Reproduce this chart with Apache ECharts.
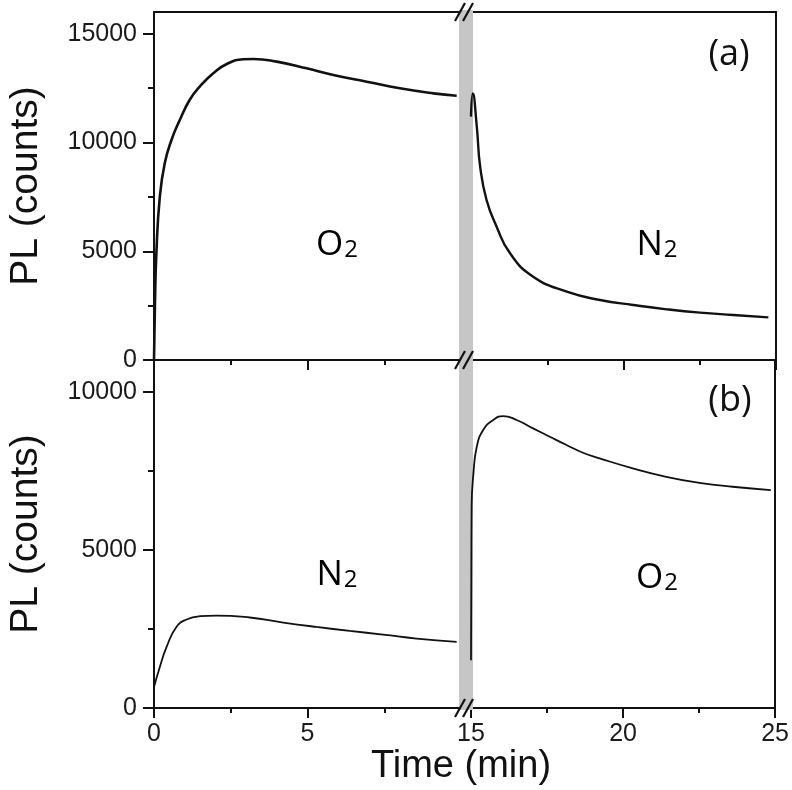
<!DOCTYPE html>
<html>
<head>
<meta charset="utf-8">
<script src="https://cdn.jsdelivr.net/npm/echarts@6/dist/echarts.min.js"></script>
<style>
html,body{margin:0;padding:0;background:#fff;}
#chart{width:792px;height:790px;}
</style>
</head>
<body>
<div id="chart"></div>
<script>
// ---- Data (time in min, PL in counts) ----
// Panel (a): O2 then N2
const timeA1 = [0, 0.03, 0.08, 0.19, 0.35, 0.57, 0.84, 1.16, 1.49, 1.93, 2.37, 2.91, 3.24, 4.0, 4.97, 5.84, 6.93, 8.01, 9.1, 9.86];
const plA1   = [0, 2500, 5000, 7510, 9045, 10115, 11035, 11955, 12567, 13183, 13610, 13826, 13840, 13717, 13410, 13104, 12797, 12490, 12260, 12153];
const timeA2 = [15.0, 15.06, 15.19, 15.30, 15.51, 15.84, 16.28, 17.04, 18.14, 19.23, 20.32, 21.42, 22.51, 23.60, 24.75];
const plA2   = [11190, 12260, 10730, 8888, 7357, 6130, 4906, 3830, 3140, 2759, 2529, 2330, 2176, 2069, 1962];
// Panel (b): N2 then O2
const timeB1 = [0, 0.19, 0.41, 0.73, 1.06, 1.49, 2.03, 3.12, 4.21, 5.29, 6.38, 7.46, 8.55, 9.86];
const plB1   = [665, 1297, 1930, 2563, 2797, 2901, 2923, 2860, 2702, 2563, 2436, 2322, 2196, 2088];
const timeB2 = [15.0, 15.01, 15.02, 15.08, 15.19, 15.40, 15.73, 16.06, 16.50, 17.04, 17.59, 18.14, 18.68, 19.23, 20.32, 21.42, 22.51, 23.60, 24.86];
const plB2   = [1509, 4000, 6360, 7416, 8258, 8786, 9103, 9229, 9103, 8840, 8574, 8312, 8068, 7891, 7575, 7309, 7119, 6993, 6888];

const xTicksLeft = [0, 5];
const xMinorLeft = [2.5, 7.5];
const xTicksRight = [15, 20, 25];
const xMinorRight = [17.5, 22.5];
const yTicksA = [0, 5000, 10000, 15000];
const yMinorA = [2500, 7500, 12500];
const yTicksB = [0, 5000, 10000];
const yMinorB = [2500, 7500];

const yTitle = 'PL (counts)';
const xTitle = 'Time (min)';

const pairs = (t, v) => t.map((x, i) => [x, v[i]]);

const INK = '#111';
const lineStyle = { color: INK, width: 2 };
const tickFont = { fontFamily: 'Liberation Sans, Arial, sans-serif', fontSize: 25, color: '#1a1a1a', formatter: function (v) { return String(v); } };

const grids = [
  { left: 154, top: 12, width: 307, height: 348 },   // a-left
  { left: 471, top: 12, width: 305, height: 348 },   // a-right
  { left: 154, top: 360, width: 307, height: 348 },  // b-left
  { left: 471, top: 360, width: 305, height: 348 }   // b-right
];

function xMajor(gi, min, max, ticks, showLabels) {
  return {
    type: 'value', gridIndex: gi, position: 'bottom', min: min, max: max, interval: 5,
    splitLine: { show: false },
    axisLine: { show: true, onZero: false, lineStyle: lineStyle },
    axisTick: { show: true, inside: false, length: 10, lineStyle: lineStyle, customValues: ticks },
    axisLabel: { show: showLabels, margin: 14, customValues: ticks, ...tickFont }
  };
}
function xMinor(gi, min, max, ticks) {
  return {
    type: 'value', gridIndex: gi, position: 'bottom', min: min, max: max, interval: 5,
    splitLine: { show: false },
    axisLine: { show: false, onZero: false },
    axisTick: { show: true, inside: false, length: 5, lineStyle: lineStyle, customValues: ticks },
    axisLabel: { show: false }
  };
}
function xTop(gi, min, max) {
  return {
    type: 'value', gridIndex: gi, position: 'top', min: min, max: max,
    splitLine: { show: false },
    axisLine: { show: true, onZero: false, lineStyle: lineStyle },
    axisTick: { show: false }, axisLabel: { show: false }
  };
}
function yMajor(gi, max, ticks, name) {
  return {
    type: 'value', gridIndex: gi, position: 'left', min: 0, max: max, interval: 5000,
    splitLine: { show: false },
    axisLine: { show: true, onZero: false, lineStyle: lineStyle },
    axisTick: { show: true, inside: false, length: 11, lineStyle: lineStyle, customValues: ticks },
    axisLabel: { show: true, margin: 17, customValues: ticks, ...tickFont },
    name: name, nameLocation: 'middle', nameGap: 108, nameRotate: 90,
    nameTextStyle: { fontFamily: 'Liberation Sans, Arial, sans-serif', fontSize: 39, color: '#111' }
  };
}
function yMinor(gi, max, ticks) {
  return {
    type: 'value', gridIndex: gi, position: 'left', min: 0, max: max, interval: 5000,
    splitLine: { show: false },
    axisLine: { show: false, onZero: false },
    axisTick: { show: true, inside: false, length: 6, lineStyle: lineStyle, customValues: ticks },
    axisLabel: { show: false }
  };
}
function yRight(gi, max) {
  return {
    type: 'value', gridIndex: gi, position: 'right', min: 0, max: max, interval: 5000,
    splitLine: { show: false },
    axisLine: { show: true, onZero: false, lineStyle: lineStyle },
    axisTick: { show: false }, axisLabel: { show: false }
  };
}

const xAxes = [
  xMajor(0, 0, 10, xTicksLeft, false),   // 0
  xMajor(1, 15, 25, xTicksRight, false), // 1
  xMajor(2, 0, 10, xTicksLeft, true),    // 2
  xMajor(3, 15, 25, xTicksRight, true),  // 3
  xMinor(0, 0, 10, xMinorLeft),          // 4
  xMinor(1, 15, 25, xMinorRight),        // 5
  xMinor(2, 0, 10, xMinorLeft),          // 6
  xMinor(3, 15, 25, xMinorRight),        // 7
  xTop(0, 0, 10),                        // 8
  xTop(1, 15, 25)                        // 9
];
const yAxes = [
  yMajor(0, 16000, yTicksA, yTitle),     // 0
  yRight(1, 16000),                      // 1
  yMajor(2, 11000, yTicksB, yTitle),     // 2
  yRight(3, 11000),                      // 3
  yMinor(0, 16000, yMinorA),             // 4
  yMinor(2, 11000, yMinorB)              // 5
];

function lineSeries(xi, yi, data, width) {
  return {
    type: 'line', xAxisIndex: xi, yAxisIndex: yi, data: data,
    showSymbol: false, symbol: 'none', smooth: 0.5,
    lineStyle: { color: INK, width: width }, z: 5, animation: false
  };
}

const series = [
  lineSeries(0, 0, pairs(timeA1, plA1), 2.6),
  lineSeries(1, 1, pairs(timeA2, plA2), 2.4),
  lineSeries(2, 2, pairs(timeB1, plB1), 1.8),
  lineSeries(3, 3, pairs(timeB2, plB2), 1.8)
];

// decorations: axis break band and // marks
const graphics = [];
graphics.push({ type: 'rect', z: 3, shape: { x: 459, y: 12, width: 14, height: 696 }, style: { fill: '#c6c6c6' } });
[12, 360, 708].forEach(function (yy) {
  graphics.push({ type: 'rect', z: 4, shape: { x: 459, y: yy - 2, width: 14, height: 4 }, style: { fill: '#c6c6c6' } });
  [460, 468].forEach(function (xx) {
    graphics.push({ type: 'line', z: 20, shape: { x1: xx - 5, y1: yy + 9, x2: xx + 5, y2: yy - 9 }, style: { stroke: INK, lineWidth: 2.2 } });
  });
});
const gasRich = {
  g: { fontFamily: 'Open Sans, sans-serif', fontSize: 35, color: '#111', verticalAlign: 'bottom', lineHeight: 40 },
  s: { fontFamily: 'Open Sans, sans-serif', fontSize: 24, color: '#111', verticalAlign: 'bottom', lineHeight: 40, padding: [0, 0, 1, 1] }
};
function gasLabel(letter, cx, cy) {
  return { type: 'text', z: 20, x: cx, y: cy, style: { text: '{g|' + letter + '}{s|2}', rich: gasRich, align: 'center', verticalAlign: 'middle' } };
}
graphics.push(gasLabel('O', 337, 243));
graphics.push(gasLabel('N', 657, 243));
graphics.push(gasLabel('N', 337, 573));
graphics.push(gasLabel('O', 657, 576));
graphics.push({ type: 'text', z: 20, x: 729, y: 55, style: { text: '(a)', fontFamily: 'Open Sans, sans-serif', fontSize: 36, fill: '#111', align: 'center', verticalAlign: 'middle' } });
graphics.push({ type: 'text', z: 20, x: 730, y: 401, style: { text: '(b)', fontFamily: 'Open Sans, sans-serif', fontSize: 36, fill: '#111', align: 'center', verticalAlign: 'middle' } });
graphics.push({ type: 'text', z: 20, x: 461, y: 767, style: { text: xTitle, fontFamily: 'Liberation Sans, Arial, sans-serif', fontSize: 38, fill: '#111', align: 'center', verticalAlign: 'middle' } });

const chart = echarts.init(document.getElementById('chart'), null, { renderer: 'canvas' });
chart.setOption({
  backgroundColor: '#ffffff',
  animation: false,
  grid: grids,
  xAxis: xAxes,
  yAxis: yAxes,
  series: series,
  graphic: { elements: graphics }
});
</script>
</body>
</html>
